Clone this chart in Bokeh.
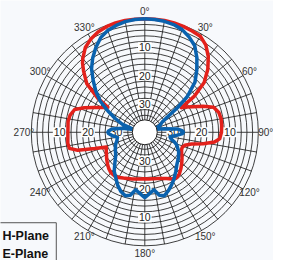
import numpy as np
from bokeh.plotting import figure
from bokeh.models import Range1d
from bokeh.embed import file_html
from bokeh.resources import INLINE
from bokeh.core.properties import value

# ---------------- data (attenuation in dB, angle clockwise from top) ----------------
red_angles = [0, 5, 10, 15, 20, 25, 30, 35, 40, 45, 50, 54, 56, 58.5, 62, 66, 70, 75, 80, 85, 90,
              95, 98, 101, 104, 108, 112, 116, 120, 125, 130, 135, 140, 145, 150, 155, 160, 165,
              170, 175, 180, 185, 190, 195, 200, 205, 210, 215, 220, 225, 230, 235, 240, 245, 249,
              252, 255, 258, 262, 270, 278, 283, 288, 292, 296, 300, 304, 306, 310, 315, 318, 320,
              325, 330, 335, 340, 345, 350, 355, 360]
red_att = [0, 0, 0, 0.1, 0.3, 0.6, 0.9, 2.5, 5.2, 8.6, 12.7, 18.5, 24.5, 23.0, 20.8, 17.5, 14.2, 13.0,
           12.7, 12.8, 13.0, 13.5, 15.2, 19.0, 23.0, 25.2, 25.8, 25.6, 25.0, 24.0, 23.0, 22.0, 21.0,
           20.4, 21.0, 22.0, 22.7, 23.1, 23.4, 23.5, 23.6, 23.5, 23.3, 23.0, 22.7, 22.2, 21.6, 21.3,
           21.4, 22.0, 22.8, 23.6, 24.4, 25.0, 25.5, 21.5, 15.5, 12.8, 12.6, 12.9, 12.7, 13.0, 14.0,
           17.0, 20.1, 22.5, 24.3, 19.5, 13.3, 9.5, 7.2, 6.0, 3.5, 2.0, 1.0, 0.4, 0.1, 0, 0, 0]

blue_angles = [0, 5, 10, 15, 20, 25, 30, 35, 40, 45, 50, 53, 56, 60, 65, 70, 75, 80, 84, 88, 90, 92,
               96, 100, 104, 108, 112, 120, 128, 135, 142, 148, 153, 158, 163, 167, 171, 175, 180,
               185, 189, 193, 197, 202, 207, 212, 218, 224, 232, 240, 247, 254, 260, 264, 268, 270,
               272, 276, 280, 284, 288, 290, 295, 300, 305, 310, 315, 320, 325, 330, 335, 340, 345,
               350, 355, 360]
blue_att = [0, 0.1, 0.3, 0.7, 1.5, 3.0, 4.8, 8.0, 11.5, 15.0, 20.5, 25.5, 30.5, 33.0, 34.0, 35.5,
            36.0, 33.0, 28.5, 26.7, 26.4, 26.7, 29.0, 31.0, 30.5, 29.0, 27.8, 26.2, 25.0, 24.0, 22.3,
            20.6, 19.2, 17.8, 16.6, 17.2, 19.5, 18.5, 17.0, 18.5, 19.5, 17.2, 16.6, 17.5, 19.0, 20.8,
            22.5, 24.8, 27.0, 28.0, 28.8, 29.8, 30.2, 28.5, 27.2, 27.0, 27.2, 28.5, 32.0, 36.0, 34.0,
            31.5, 28.5, 25.0, 20.8, 17.5, 14.3, 10.8, 8.0, 5.5, 3.2, 1.8, 1.0, 0.4, 0.1, 0]

angle_ticks = [0, 30, 60, 90, 120, 150, 180, 210, 240, 270, 300, 330]
angle_labels = ["0°", "30°", "60°", "90°", "120°", "150°", "180°", "210°", "240°", "270°", "300°", "330°"]
radial_ticks = [10, 20, 30]
radial_labels = ["10", "20", "30"]
legend_names = ["H-Plane", "E-Plane"]

# ---------------- layout ----------------
W, H = 273, 260
S = 0.962            # shrink so the reference picture (with its labels) fits the figure
PX = 2.95            # reference pixels per dB
FLOOR = 40.0         # dB at the centre
CX, CY = 150, 137    # reference-pixel position of the centre
BG = "#f7f9fc"
GRID = "#1e1e1e"

def to_xy(ang, att):
    th = np.radians(np.asarray(ang, dtype=float))
    rho = FLOOR - np.asarray(att, dtype=float)
    return rho * np.sin(th), rho * np.cos(th)

def page(px, py):
    return (px - CX) / PX, (CY - py) / PX

x0, y1 = page(0, 0)
x1, y0 = page(W / S, H / S)

p = figure(width=W, height=H, x_range=Range1d(x0, x1), y_range=Range1d(y0, y1),
           output_backend="svg", toolbar_location=None, min_border=0)
p.axis.visible = False
p.grid.visible = False
p.outline_line_color = None
p.background_fill_color = BG
p.border_fill_color = BG

# rings every 2 dB
rings = [FLOOR - a for a in range(0, 36, 2)]
p.circle(x=[0] * len(rings), y=[0] * len(rings), radius=rings, fill_color=None,
         line_color=GRID, line_width=0.85)
# spokes every 10 degrees
sp = np.arange(0, 360, 10)
sx, sy = to_xy(sp, [0.0] * len(sp))
p.segment(x0=[0.0] * len(sp), y0=[0.0] * len(sp), x1=sx, y1=sy, line_color=GRID, line_width=0.85)

# radial labels on the four main directions
rl_x, rl_y, rl_t = [], [], []
for d in [0, 90, 180, 270]:
    for v, t in zip(radial_ticks, radial_labels):
        xx, yy = to_xy([d], [v])
        rl_x.append(float(xx[0])); rl_y.append(float(yy[0])); rl_t.append(t)
p.text(x=rl_x, y=rl_y, text=rl_t, text_align="center", text_baseline="middle",
       text_font=value("Liberation Sans"), text_font_size="10.5px", text_color="#222222",
       background_fill_color="#ffffff", padding=1)

# angle labels
ax, ay = to_xy(angle_ticks, [-2.6] * len(angle_ticks))
p.text(x=ax, y=ay, text=angle_labels, text_align="center", text_baseline="middle",
       text_font=value("Liberation Sans"), text_font_size="10px", text_color="#333333")

# patterns
rx, ry = to_xy(red_angles, red_att)
p.line(rx, ry, line_color="#e3211b", line_width=3.5, line_join="round")
bx, by = to_xy(blue_angles, blue_att)
p.line(bx, by, line_color="#0a62ae", line_width=3.5, line_join="round")

# inner disk
p.circle(x=[0], y=[0], radius=[4.4], fill_color="#ffffff", line_color=GRID, line_width=1)

# legend box (partly outside the frame, as in the original)
lx0, ly0 = page(-6, 231)
lx1, ly1 = page(58, 285)
p.quad(left=[lx0], right=[lx1], top=[ly0], bottom=[ly1], fill_color=BG,
       line_color="#555555", line_width=1)
tx, ty1 = page(2, 245)
_, ty2 = page(2, 263)
p.text(x=[tx, tx], y=[ty1, ty2], text=legend_names, text_align="left", text_baseline="middle",
       text_font=value("Liberation Sans"), text_font_size="12.5px", text_font_style="bold",
       text_color="#111111")

open("out.html", "w").write(file_html(p, INLINE))
